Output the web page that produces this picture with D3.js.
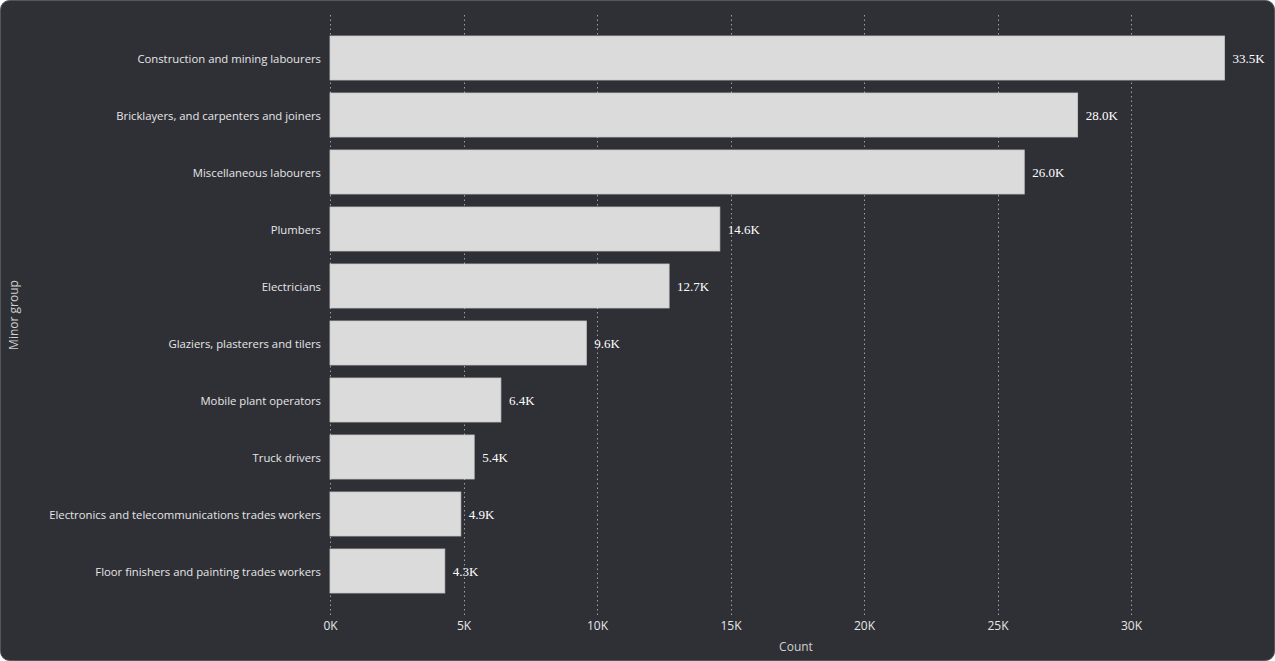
<!DOCTYPE html>
<html>
<head>
<meta charset="utf-8">
<script src="https://cdn.jsdelivr.net/npm/d3@7"></script>
<style>
  html, body { margin: 0; padding: 0; background: #ffffff; }
  #chart { width: 1275px; height: 661px; }
  .tick text { font-family: "Open Sans", "Noto Sans", sans-serif; }
</style>
</head>
<body>
<div id="chart"></div>
<script>
// data
var categories = [
	"Construction and mining labourers",
	"Bricklayers, and carpenters and joiners",
	"Miscellaneous labourers",
	"Plumbers",
	"Electricians",
	"Glaziers, plasterers and tilers",
	"Mobile plant operators",
	"Truck drivers",
	"Electronics and telecommunications trades workers",
	"Floor finishers and painting trades workers"
];
var counts = [33500, 28000, 26000, 14600, 12700, 9600, 6400, 5400, 4900, 4300];
var xTicks = [0, 5000, 10000, 15000, 20000, 25000, 30000];

var W = 1275, H = 661;
var margin = { top: 29.5, right: 50, bottom: 61.5, left: 330 };
var width = W - margin.left - margin.right;
var height = H - margin.top - margin.bottom;

var svg = d3.select("#chart").append("svg")
	.attr("width", W)
	.attr("height", H);

// panel background
svg.append("rect")
	.attr("x", 0.5).attr("y", 0.5)
	.attr("width", W - 1).attr("height", H - 1)
	.attr("rx", 9).attr("ry", 9)
	.attr("fill", "#2f3036")
	.attr("stroke", "#55565c")
	.attr("stroke-width", 1);

// 33.5K ends at ~1224px
var x = d3.scaleLinear()
	.domain([0, 33500])
	.range([0, 894.5]);

var y = d3.scaleBand()
	.domain(categories)
	.range([0, height])
	.paddingInner(13 / 57)
	.paddingOuter(13 / 114);

var g = svg.append("g")
	.attr("transform", "translate(" + margin.left + "," + margin.top + ")");

// dotted grid lines
g.append("g")
	.selectAll("line")
	.data(xTicks)
	.enter().append("line")
	.attr("x1", function (d) { return Math.round(x(d)) + 0.5; })
	.attr("x2", function (d) { return Math.round(x(d)) + 0.5; })
	.attr("y1", 15 - margin.top)
	.attr("y2", 616 - margin.top)
	.attr("stroke", "#9c9da2")
	.attr("stroke-width", 1)
	.attr("stroke-dasharray", "1.5,3");

// bars
g.selectAll(".bar")
	.data(counts)
	.enter().append("rect")
	.attr("class", "bar")
	.attr("x", x(0))
	.attr("y", function (d, i) { return y(categories[i]); })
	.attr("width", function (d) { return x(d); })
	.attr("height", y.bandwidth())
	.attr("fill", "#dbdbdb")
	.attr("stroke", "#c9c9c9")
	.attr("stroke-width", 0.8);

// value labels
g.selectAll(".val")
	.data(counts)
	.enter().append("text")
	.attr("class", "val")
	.attr("x", function (d) { return x(d) + 8; })
	.attr("y", function (d, i) { return y(categories[i]) + y.bandwidth() / 2; })
	.attr("dy", "0.38em")
	.attr("fill", "#ffffff")
	.style("font-family", "'Liberation Serif', 'DejaVu Serif', serif")
	.style("font-size", "13px")
	.text(function (d) { return (d / 1000).toFixed(1) + "K"; });

// category labels
g.selectAll(".cat")
	.data(categories)
	.enter().append("text")
	.attr("class", "cat")
	.attr("x", -9)
	.attr("y", function (d) { return y(d) + y.bandwidth() / 2; })
	.attr("dy", "0.42em")
	.attr("text-anchor", "end")
	.attr("fill", "#e6e6e6")
	.style("font-family", "'Open Sans', 'Noto Sans', sans-serif")
	.style("font-size", "11.3px")
	.text(function (d) { return d; });

// x axis
var xAxis = g.append("g")
	.attr("transform", "translate(0," + height + ")")
	.call(d3.axisBottom(x)
		.tickValues(xTicks)
		.tickSize(0)
		.tickPadding(22)
		.tickFormat(function (d) { return (d / 1000) + "K"; }));
xAxis.select(".domain").remove();
xAxis.selectAll("text")
	.attr("fill", "#e6e6e6")
	.style("font-size", "12px");

// axis titles
svg.append("text")
	.attr("x", 796)
	.attr("y", 651)
	.attr("text-anchor", "middle")
	.attr("fill", "#d0d0d0")
	.style("font-family", "'Open Sans', 'Noto Sans', sans-serif")
	.style("font-size", "12px")
	.text("Count");

svg.append("text")
	.attr("transform", "translate(18,315) rotate(-90)")
	.attr("text-anchor", "middle")
	.attr("fill", "#d0d0d0")
	.style("font-family", "'Open Sans', 'Noto Sans', sans-serif")
	.style("font-size", "12px")
	.text("Minor group");
</script>
</body>
</html>
